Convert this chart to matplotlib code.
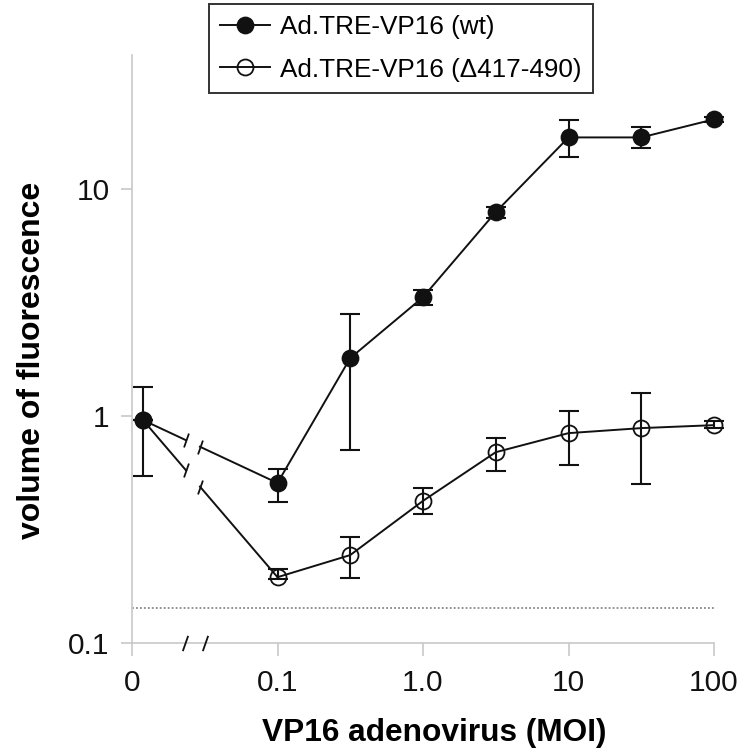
import matplotlib.pyplot as plt
import numpy as np
from matplotlib.ticker import NullLocator

plt.rcParams['font.family'] = ['Liberation Sans', 'DejaVu Sans']

# MOI values; 0 is drawn at a stand-in spot left of the axis break
moi = [0, 0.1, 0.316, 1.0, 3.16, 10, 31.6, 100]
zero_pos = 0.0119

wt = [0.96, 0.507, 1.80, 3.34, 7.92, 16.9, 16.9, 20.3]
wt_hi = [1.34, 0.585, 2.81, 3.59, 8.34, 20.1, 18.7, 20.8]
wt_lo = [0.544, 0.418, 0.708, 3.08, 7.45, 13.8, 15.2, 19.8]

dl = [0.96, 0.195, 0.244, 0.423, 0.693, 0.841, 0.885, 0.912]
dl_hi = [0.96, 0.211, 0.293, 0.482, 0.80, 1.05, 1.26, 0.95]
dl_lo = [0.96, 0.191, 0.193, 0.370, 0.573, 0.608, 0.501, 0.89]

background = 0.143

xticks = [0.01, 0.1, 1, 10, 100]
xticklabels = ['0', '0.1', '1.0', '10', '100']
yticks = [0.1, 1, 10]
yticklabels = ['0.1', '1', '10']

gap = (0.0235, 0.0293)     # break in the first segment
axis_breaks = [0.0231, 0.032]

x = np.array([m if m > 0 else zero_pos for m in moi])
slash = [(-0.35, -1), (0.35, 1)]
ink = '#111111'
grey = '#c8c8c8'

fig = plt.figure(figsize=(7.44, 7.52), dpi=100)
ax = fig.add_axes([132 / 744, 109 / 752, 582 / 744, 588 / 752])
ax.set_xscale('log')
ax.set_yscale('log')
ax.set_xlim(0.01, 100)
ax.set_ylim(0.1, 39)

ax.axhline(background, color='#888888', lw=1.3, ls=(0, (1, 1.2)), zorder=1)


def draw(y, hi, lo, face, label):
    y = np.array(y)
    yerr = [y - np.array(lo), np.array(hi) - y]
    ax.errorbar(x, y, yerr=yerr, fmt='none', ecolor=ink, elinewidth=1.5,
                capsize=7, capthick=1.5, zorder=3, clip_on=False)
    # first segment with a gap, straight in log-log space
    lx0, lx1 = np.log10(x[0]), np.log10(x[1])
    ly0, ly1 = np.log10(y[0]), np.log10(y[1])
    ends = []
    for g in gap:
        t = (np.log10(g) - lx0) / (lx1 - lx0)
        ends.append(10 ** (ly0 + t * (ly1 - ly0)))
    ax.plot([x[0], gap[0]], [y[0], ends[0]], color=ink, lw=1.4, zorder=2)
    ax.plot([gap[1], x[1]], [ends[1], y[1]], color=ink, lw=1.4, zorder=2)
    ax.plot(gap, ends, ls='none', marker=slash, ms=10, mew=1.3, mec=ink, zorder=2)
    ax.plot(x[1:], y[1:], color=ink, lw=1.4, zorder=2)
    ax.plot(x, y, ls='none', marker='o', ms=11.5, mfc=face, mec=ink, mew=1.3,
            zorder=4, clip_on=False)
    # proxy for the legend
    return ax.plot([], [], color=ink, lw=1.4, marker='o', ms=11.5, mfc=face,
                   mec=ink, mew=1.3, label=label)[0]


h2 = draw(dl, dl_hi, dl_lo, 'none', 'Ad.TRE-VP16 (\u0394417-490)')
h1 = draw(wt, wt_hi, wt_lo, ink, 'Ad.TRE-VP16 (wt)')

# break marks on the x axis
ax.plot(axis_breaks, [0.1, 0.1], ls='none', marker=slash, ms=11, mew=1.3,
        mec=ink, clip_on=False, zorder=5)

for side in ['top', 'right']:
    ax.spines[side].set_visible(False)
for side in ['left', 'bottom']:
    ax.spines[side].set_color(grey)
    ax.spines[side].set_linewidth(1.2)

ax.set_xticks(xticks)
ax.set_xticklabels(xticklabels)
ax.set_yticks(yticks)
ax.set_yticklabels(yticklabels)
ax.xaxis.set_minor_locator(NullLocator())
ax.yaxis.set_minor_locator(NullLocator())
ax.tick_params(axis='both', direction='out', color=grey, width=1.2,
               labelsize=21.5, labelcolor=ink)
ax.tick_params(axis='x', length=9, pad=10)
ax.tick_params(axis='y', length=8, pad=8)

ax.set_xlabel('VP16 adenovirus (MOI)', fontsize=22.8, fontweight='bold', va='center')
ax.xaxis.set_label_coords(0.519, -0.153)
ax.set_ylabel('volume of fluorescence', fontsize=23, fontweight='bold', va='center')
ax.yaxis.set_label_coords(-0.172, 0.48)

leg = ax.legend(handles=[h1, h2], loc='upper left',
                bbox_to_anchor=(209 / 744, 1 - 4 / 752), bbox_transform=fig.transFigure,
                borderaxespad=0, fontsize=18.8, fancybox=False, framealpha=1,
                edgecolor='#333333', handlelength=1.9, handletextpad=0.4,
                borderpad=0.43, labelspacing=0.7)
leg.get_frame().set_linewidth(1.4)

fig.savefig('out.png', dpi=100)
